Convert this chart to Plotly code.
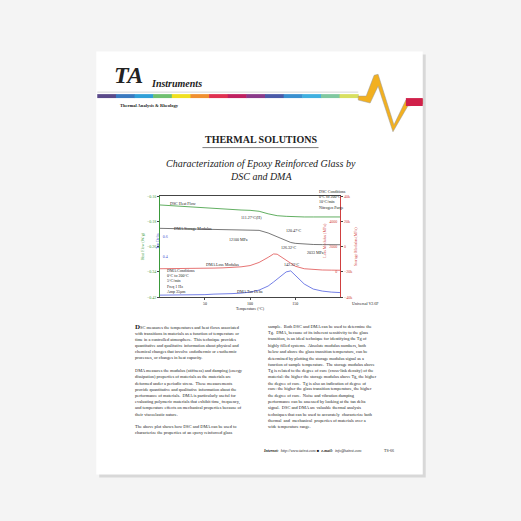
import plotly.graph_objects as go

# temperatur in krivulje (odcitano z grafa)
temp = [0, 10, 20, 30, 40, 50, 60, 70, 80, 90, 100, 110, 120, 126, 130, 140, 145, 150, 160, 170, 180, 190, 200]
heat_flow = [-0.128, -0.130, -0.132, -0.134, -0.136, -0.138, -0.140, -0.141, -0.142, -0.144, -0.145, -0.148, -0.156, -0.160, -0.162, -0.164, -0.165, -0.165, -0.166, -0.166, -0.166, -0.166, -0.166]
storage = [14500, 14400, 14300, 14200, 14100, 14000, 13900, 13800, 13700, 13600, 13400, 12900, 10800, 9000, 7500, 4300, 3300, 2600, 1900, 1700, 1600, 1500, 1500]
loss = [250, 250, 260, 270, 280, 290, 300, 320, 350, 400, 500, 750, 1150, 1420, 1400, 950, 700, 450, 250, 180, 150, 140, 130]
tan_delta = [0.02, 0.02, 0.02, 0.02, 0.025, 0.025, 0.03, 0.03, 0.035, 0.04, 0.05, 0.07, 0.11, 0.15, 0.18, 0.25, 0.26, 0.22, 0.13, 0.08, 0.06, 0.05, 0.045]

W, H = 521, 521
def px(x): return x / W
def py(y): return 1 - y / H

fig = go.Figure()
fig.add_trace(go.Scatter(x=temp, y=heat_flow, mode="lines", line=dict(color="#3a9a3a", width=0.8), yaxis="y"))
fig.add_trace(go.Scatter(x=temp, y=storage, mode="lines", line=dict(color="#555", width=0.8), yaxis="y2"))
fig.add_trace(go.Scatter(x=temp, y=loss, mode="lines", line=dict(color="#e05050", width=0.8), yaxis="y3"))
fig.add_trace(go.Scatter(x=temp, y=tan_delta, mode="lines", line=dict(color="#5060e0", width=0.8), yaxis="y4"))

dom_x = [px(160), px(342)]
dom_y = [py(297), py(195)]
tf = dict(family="Liberation Serif", size=4)

fig.update_layout(
    width=W, height=H, showlegend=False,
    margin=dict(l=0, r=0, t=0, b=0),
    paper_bgcolor="#f4f4f4", plot_bgcolor="rgba(0,0,0,0)",
    font=dict(family="Liberation Serif", color="#222"),
    xaxis=dict(domain=dom_x, range=[0, 200], tickvals=[0, 50, 100, 150, 200], tickfont=tf,
               showline=True, linecolor="#444", linewidth=0.6, ticks="outside", ticklen=2,
               showgrid=False, zeroline=False, mirror=True,
               title=dict(text="Temperature (°C)", font=tf, standoff=2)),
    yaxis=dict(domain=dom_y, range=[-0.42, -0.10], tickvals=[-0.42, -0.34, -0.26, -0.18, -0.10],
               tickformat=".2f", tickfont=dict(family="Liberation Serif", size=4, color="#3a9a3a"),
               showline=True, linecolor="#3a9a3a", linewidth=0.6, ticks="outside", ticklen=2,
               showgrid=False, zeroline=False,
               title=dict(text="Heat Flow (W/g)", font=dict(family="Liberation Serif", size=4, color="#3a9a3a"), standoff=2)),
    yaxis2=dict(overlaying="y", side="right", anchor="x", range=[-40000, 40000],
                tickvals=[-40000, -20000, 0, 20000, 40000], tickfont=dict(family="Liberation Serif", size=4, color="#d04040"),
                showline=True, linecolor="#d04040", linewidth=0.6, ticks="outside", ticklen=2,
                showgrid=False, zeroline=False,
                title=dict(text="Storage Modulus (MPa)", font=dict(family="Liberation Serif", size=4, color="#d04040"), standoff=2)),
    yaxis3=dict(overlaying="y", side="right", anchor="x", range=[-2000, 6000],
                tickvals=[0, 2000, 4000], ticklabelposition="inside", tickfont=dict(family="Liberation Serif", size=4, color="#d04040"),
                showline=False, showgrid=False, zeroline=False),
    yaxis4=dict(overlaying="y", side="left", anchor="x", range=[0, 1.0],
                tickvals=[0.4, 0.6], ticklabelposition="inside", tickfont=dict(family="Liberation Serif", size=4, color="#4050d0"),
                showline=False, showgrid=False, zeroline=False),
)

shapes = []
# sivi rob in stran
shapes.append(dict(type="rect", xref="paper", yref="paper", x0=px(99), x1=px(428), y0=py(479), y1=py(52),
                   fillcolor="#d8d8d8", line=dict(width=0), layer="below"))
shapes.append(dict(type="rect", xref="paper", yref="paper", x0=px(96), x1=px(425), y0=py(476), y1=py(49),
                   fillcolor="white", line=dict(width=0), layer="below"))
# barvni trak
bar_cols = ["#5a4a8a", "#3a7ac0", "#30a0d8", "#70c070", "#f0e020", "#f09030", "#e03050", "#c02060",
            "#8a3a8a", "#4a5aa8", "#3a90d0", "#40b0e0", "#80c8a0", "#d8e060"]
x0 = 97
step = (360 - 97) / len(bar_cols)
for i, c in enumerate(bar_cols):
    shapes.append(dict(type="rect", xref="paper", yref="paper", x0=px(x0 + i * step), x1=px(x0 + (i + 1) * step + 0.5),
                       y0=py(96), y1=py(92), fillcolor=c, line=dict(width=0)))
shapes.append(dict(type="line", xref="paper", yref="paper", x0=px(97), x1=px(360), y0=py(90), y1=py(90),
                   line=dict(color="#bbb", width=0.6)))
# val logotipa
shapes.append(dict(type="path", xref="paper", yref="paper",
                   path=f"M {px(360)},{py(94)} L {px(368)},{py(94)} L {px(376)},{py(73)} L {px(380)},{py(72)} "
                        f"L {px(396)},{py(123)} L {px(408)},{py(98)} L {px(425)},{py(97)} L {px(425)},{py(102)} "
                        f"L {px(410)},{py(104)} L {px(395)},{py(130)} L {px(380)},{py(84)} L {px(372)},{py(101)} L {px(360)},{py(98)} Z",
                   fillcolor="#f2b020", line=dict(color="#999", width=0.5)))
shapes.append(dict(type="rect", xref="paper", yref="paper", x0=px(408), x1=px(425), y0=py(104), y1=py(96),
                   fillcolor="#d0204a", line=dict(width=0)))
# podcrtan naslov
shapes.append(dict(type="line", xref="paper", yref="paper", x0=px(203), x1=px(320), y0=py(146), y1=py(146),
                   line=dict(color="#222", width=0.6)))
fig.update_layout(shapes=shapes)

ann = []
def txt(x, y, s, size=4, color="#222", anchor="left", italic=False, bold=False, angle=0, family="Liberation Serif", align="left"):
    if bold:
        s = f"<b>{s}</b>"
    if italic:
        s = f"<i>{s}</i>"
    ann.append(dict(x=px(x), y=py(y), xref="paper", yref="paper", text=s, showarrow=False,
                    xanchor=anchor, yanchor="middle", textangle=angle, align=align,
                    font=dict(family=family, size=size, color=color)))

txt(112, 73, "TA", size=24, anchor="left", italic=True, bold=True, family="Liberation Serif")
txt(149, 81, "Instruments", size=10, italic=True, bold=True)
txt(118, 103, "Thermal Analysis & Rheology", size=4.5, bold=True)
txt(262, 138, "THERMAL SOLUTIONS", size=10, anchor="center", bold=True)
txt(262, 162, "Characterization of Epoxy Reinforced Glass by", size=10, anchor="center", italic=True)
txt(262, 175, "DSC and DMA", size=10, anchor="center", italic=True)

# oznake na grafu
txt(168, 202, "DSC Heat Flow")
txt(172, 228, "DMA Storage Modulus")
txt(240, 217, "111.27°C(H)")
txt(228, 239, "12100 MPa")
txt(285, 230, "120.47°C")
txt(306, 252, "2033 MPa")
txt(280, 247, "126.32°C")
txt(205, 264, "DMA Loss Modulus")
txt(283, 264, "142.32°C")
txt(236, 291, "DMA Tan Delta")
txt(318, 198, "DSC Conditions<br>0°C to 200°C<br>10°C/min<br>Nitrogen Purge", align="left")
txt(165, 281, "DMA Conditions<br>0°C to 200°C<br>5°C/min<br>Freq 1 Hz<br>Amp 35µm", align="left")
txt(153, 240, "Tan Delta", color="#4050d0", angle=-90)
txt(322, 240, "Loss Modulus (MPa)", color="#d04040", angle=-90)
txt(367, 303, "Universal V2.6F", anchor="center")

left_col = [
    "<b><span style='font-size:7px'>D</span></b>SC measures the temperatures and heat flows associated",
    "with transitions in materials as a function of temperature or",
    "time in a controlled atmosphere.  This technique provides",
    "quantitative and qualitative information about physical and",
    "chemical changes that involve endothermic or exothermic",
    "processes, or changes in heat capacity.",
    "",
    "DMA measures the modulus (stiffness) and damping (energy",
    "dissipation) properties of materials as the materials are",
    "deformed under a periodic stress.  These measurements",
    "provide quantitative and qualitative information about the",
    "performance of materials.  DMA is particularly useful for",
    "evaluating polymeric materials that exhibit time, frequency,",
    "and temperature effects on mechanical properties because of",
    "their viscoelastic nature.",
    "",
    "The above plot shows how DSC and DMA can be used to",
    "characterize the properties of an epoxy reinforced glass",
]
right_col = [
    "sample.  Both DSC and DMA can be used to determine the",
    "Tg.  DMA, because of its inherent sensitivity to the glass",
    "transition, is an ideal technique for identifying the Tg of",
    "highly filled systems.  Absolute modulus numbers, both",
    "below and above the glass transition temperature, can be",
    "determined by plotting the storage modulus signal as a",
    "function of sample temperature.  The storage modulus above",
    "Tg is related to the degree of cure (cross-link density) of the",
    "material: the higher the storage modulus above Tg, the higher",
    "the degree of cure.  Tg is also an indication of degree of",
    "cure: the higher the glass transition temperature, the higher",
    "the degree of cure.  Noise and vibration damping",
    "performance can be assessed by looking at the tan delta",
    "signal.  DSC and DMA are valuable thermal analysis",
    "techniques that can be used to accurately  characterize both",
    "thermal  and  mechanical  properties of materials over a",
    "wide temperature range.",
]
for i, line in enumerate(left_col):
    txt(133, 327 + i * 6.3, line, size=4.4)
for i, line in enumerate(right_col):
    txt(267, 327 + i * 6.3, line, size=4.4)

txt(262, 452, "<i><b>Internet:</b>  http://www.tainst.com</i> ■  <i><b>e-mail:</b>  info@tainst.com</i>", size=4)
txt(384, 452, "TS-66", size=4)

fig.update_layout(annotations=ann)
fig.write_html("out.html", config={"displayModeBar": False},
               post_script="document.body.style.margin='0';document.body.style.overflow='hidden';")
